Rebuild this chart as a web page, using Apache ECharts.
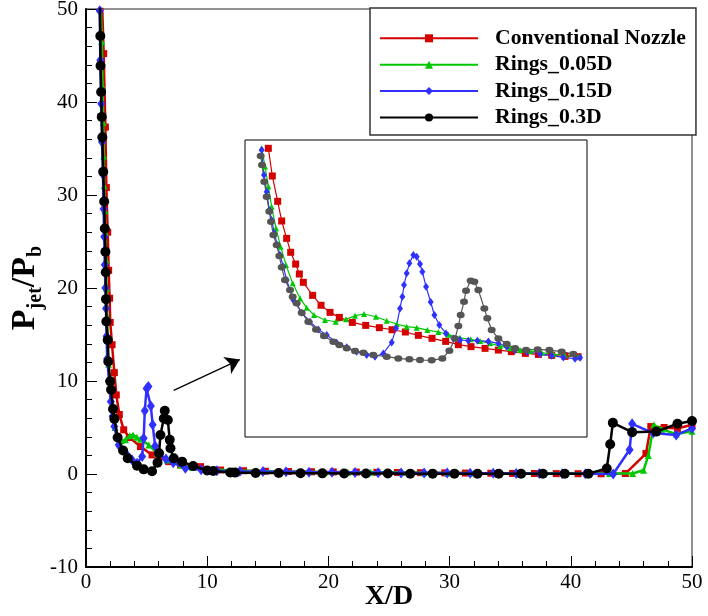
<!DOCTYPE html>
<html>
<head>
<meta charset="utf-8">
<script src="https://cdn.jsdelivr.net/npm/echarts@6/dist/echarts.min.js"></script>
<style>
  html, body { margin: 0; padding: 0; background: #ffffff; }
  #chart { width: 708px; height: 616px; }
</style>
</head>
<body>
<div id="chart"></div>
<script>
// Jet-to-back pressure ratio along the wall, X/D from 0 to 50
const seriesNames = ['Conventional Nozzle', 'Rings_0.05D', 'Rings_0.15D', 'Rings_0.3D'];
const xTicks = [0, 10, 20, 30, 40, 50];
const yTicks = [-10, 0, 10, 20, 30, 40, 50];

// Conventional nozzle
const nozzleX = [1.33, 1.46, 1.6, 1.68, 1.79, 1.87, 1.95, 2.0, 2.15, 2.34, 2.5, 2.75, 3.11, 3.58, 4.49, 5.45, 6.83, 7.8, 9.45, 11.1,
  13.0, 14.8, 16.7, 18.6, 20.4, 22.3, 24.0, 25.7, 27.6, 29.6, 31.3, 33.4, 35.2, 37.0, 38.8, 40.6, 42.5, 44.5, 46.2, 46.6, 47.7, 48.8, 50];
const nozzleY = [50.5, 45.2, 37.3, 30.8, 26.0, 21.9, 18.9, 16.3, 13.9, 10.9, 8.5, 6.4, 4.75, 3.92, 2.95, 2.05, 1.33, 0.97, 0.79, 0.43,
  0.35, 0.3, 0.27, 0.24, 0.22, 0.2, 0.18, 0.16, 0.14, 0.12, 0.1, 0.08, 0.06, 0.05, 0.04, 0.03, 0.02, 0.05, 2.2, 5.1, 5.0, 4.9, 5.3];

// Rings, 0.05D
const rings005X = [1.22, 1.30, 1.36, 1.42, 1.46, 1.5, 1.55, 1.6, 1.65, 1.7, 1.75, 1.8, 1.86, 1.95, 2.05, 2.2, 2.4, 2.56, 2.9, 3.25, 3.6, 3.88, 4.2, 4.49,
  5.18, 5.87, 6.69, 7.8, 8.8, 10.2, 12.1, 14.0, 15.9, 17.8, 19.7, 21.6, 23.5, 26.1, 27.9, 29.8, 31.8, 33.8, 35.6, 37.5, 39.4, 41.3, 43.2, 45.1,
  46.0, 46.4, 46.85, 47.5, 48.7, 50];
const rings005Y = [50.5, 46.5, 41.7, 37.8, 34.2, 31.0, 28.3, 26.0, 23.0, 20.0, 17.0, 14.5, 11.8, 10.0, 8.0, 6.5, 5.0, 4.0, 3.6, 3.67, 4.1, 4.2, 3.95, 3.74,
  3.13, 2.23, 1.51, 0.97, 0.7, 0.5, 0.38, 0.32, 0.28, 0.25, 0.22, 0.2, 0.18, 0.15, 0.13, 0.12, 0.1, 0.09, 0.08, 0.07, 0.06, 0.05, 0.05, 0.05,
  0.4, 2.0, 5.3, 4.8, 4.3, 4.6];

// Rings, 0.15D
const rings015X = [1.13, 1.18, 1.26, 1.32, 1.4, 1.45, 1.5, 1.55, 1.6, 1.65, 1.7, 1.75, 1.9, 2.05, 2.2, 2.34, 2.7, 3.39, 3.8, 4.21, 4.63, 4.76, 4.85, 5.0, 5.15,
  5.35, 5.5, 5.7, 6.0, 6.6, 7.2, 8.2, 9.5, 10.8, 12.7, 14.6, 16.5, 18.4, 20.3, 22.2, 24.1, 26.0, 27.9, 29.8, 31.7, 33.6, 35.5, 37.4, 39.3, 41.2, 43.5,
  44.85, 45.06, 46.8, 48.7, 50];
const rings015Y = [49.8, 44.5, 39.8, 35.7, 32.2, 28.5, 25.5, 22.5, 20.0, 17.8, 14.8, 12.4, 10.0, 7.8, 6.2, 5.1, 3.13, 2.05, 1.5, 1.15, 1.87, 3.85, 6.8, 9.2, 9.4,
  7.3, 5.3, 3.0, 2.1, 1.6, 1.2, 0.61, 0.45, 0.35, 0.3, 0.26, 0.23, 0.2, 0.18, 0.16, 0.14, 0.12, 0.11, 0.1, 0.08, 0.07, 0.06, 0.05, 0.04, 0.03, 0.0,
  2.6, 5.4, 4.4, 4.2, 4.9];

// Rings, 0.3D
const rings03X = [1.15, 1.18, 1.2, 1.25, 1.3, 1.35, 1.42, 1.5, 1.55, 1.6, 1.63, 1.65, 1.68, 1.79, 1.84, 2.0, 2.07, 2.23, 2.34, 2.61, 3.06, 3.44, 4.21, 4.76,
  5.45, 5.9, 6.03, 6.14, 6.42, 6.5, 6.75, 6.91, 6.97, 7.24, 7.93, 8.84, 10.0, 10.5, 11.9, 12.3, 14.0, 15.9, 17.7, 19.5, 21.3, 23.1, 24.9, 26.75, 28.6,
  30.4, 32.3, 34.05, 35.9, 37.7, 39.5, 41.45, 42.97, 43.25, 43.47, 45.06, 47.05, 48.8, 50];
const rings03Y = [50.5, 47.1, 43.9, 41.07, 38.4, 36.2, 32.5, 29.3, 26.4, 23.9, 21.7, 18.8, 16.4, 14.4, 12.1, 9.96, 9.06, 6.98, 5.93, 3.92, 2.52, 1.69, 0.9, 0.5,
  0.3, 1.22, 2.23, 4.2, 5.97, 6.8, 5.8, 3.67, 2.77, 1.69, 1.33, 0.86, 0.38, 0.33, 0.17, 0.15, 0.1, 0.1, 0.08, 0.07, 0.06, 0.05, 0.05, 0.04, 0.04,
  0.04, 0.03, 0.03, 0.03, 0.02, 0.02, 0.02, 0.6, 3.2, 5.5, 4.5, 4.56, 5.4, 5.7];

// Detail view of the near-exit region (X/D about 1 to 9)
const detailNozzleX = [1.563, 1.659, 1.788, 1.885, 2.005, 2.102, 2.222, 2.311, 2.407, 2.632, 2.834, 3.051, 3.276, 3.589, 3.911, 4.241,
  4.547, 4.868, 5.182, 5.512, 5.841, 6.147, 6.452, 6.790, 7.112, 7.425, 7.763, 8.077, 8.398, 8.720, 9.034];
const detailNozzleY = [18.27, 15.85, 13.63, 11.91, 10.39, 9.17, 8.14, 7.27, 6.54, 5.40, 4.53, 3.91, 3.47, 3.03, 2.77, 2.57,
  2.39, 2.19, 1.90, 1.64, 1.37, 1.08, 0.91, 0.76, 0.61, 0.47, 0.32, 0.23, 0.15, 0.06, 0.03];
const detailRings005X = [1.402, 1.483, 1.563, 1.643, 1.748, 1.860, 1.989, 2.150, 2.327, 2.488, 2.665, 2.930, 3.187, 3.437, 3.654, 3.871,
  4.160, 4.418, 4.659, 4.900, 5.141, 5.399, 5.664, 5.906, 6.187, 6.444, 6.670, 6.911, 7.152, 7.393, 7.634, 7.876, 8.157, 8.439, 8.720, 9.042];
const detailRings005Y = [18.27, 16.67, 14.92, 13.16, 11.27, 9.66, 8.06, 6.45, 5.14, 4.32, 3.68, 3.24, 3.09, 3.30, 3.62, 3.77,
  3.53, 3.18, 2.89, 2.66, 2.57, 2.36, 2.19, 1.96, 1.69, 1.55, 1.40, 1.20, 0.96, 0.76, 0.61, 0.53, 0.38, 0.26, 0.15, 0.03];
const detailRings015X = [1.402, 1.458, 1.523, 1.587, 1.643, 1.708, 1.780, 1.844, 1.925, 2.005, 2.166, 2.367, 2.568, 2.769, 2.970, 3.211,
  3.453, 3.694, 3.935, 4.136, 4.337, 4.538, 4.643, 4.739, 4.796, 4.836, 4.900, 4.965, 5.061, 5.142, 5.222, 5.278, 5.367, 5.479, 5.568,
  5.688, 5.849, 6.026, 6.187, 6.388, 6.605, 6.871, 7.112, 7.313, 7.514, 7.795, 8.117, 8.398, 8.680, 8.961, 9.082];
const detailRings015Y = [18.13, 15.94, 14.48, 12.87, 12.00, 10.83, 9.81, 8.93, 7.91, 6.74, 4.99, 3.88, 3.09, 2.42, 1.93, 1.26,
  0.85, 0.47, 0.18, 0.03, 0.32, 1.28, 2.51, 4.26, 5.28, 6.30, 7.33, 8.20, 8.93, 8.79, 8.14, 7.47, 6.16, 4.82, 3.68,
  2.80, 2.07, 1.63, 1.49, 1.43, 1.43, 1.37, 1.20, 0.90, 0.61, 0.47, 0.26, 0.12, -0.03, -0.15, -0.06];
const detailRings03X = [1.378, 1.410, 1.466, 1.523, 1.587, 1.627, 1.684, 1.764, 1.828, 1.885, 1.965, 2.086, 2.150, 2.246, 2.367, 2.528,
  2.713, 2.906, 3.131, 3.276, 3.453, 3.654, 3.855, 4.096, 4.418, 4.699, 4.965, 5.222, 5.503, 5.761, 5.930, 6.066, 6.147, 6.203, 6.283,
  6.332, 6.444, 6.533, 6.629, 6.774, 6.846, 6.951, 7.112, 7.313, 7.514, 7.779, 8.061, 8.342, 8.640, 8.921];
const detailRings03Y = [17.60, 16.81, 15.35, 14.04, 12.73, 11.85, 10.68, 9.81, 8.84, 7.85, 6.74, 5.87, 5.28, 4.70, 3.88, 3.09,
  2.42, 1.84, 1.34, 1.05, 0.76, 0.53, 0.38, 0.18, 0.03, -0.12, -0.20, -0.26, -0.29, -0.12, 0.55, 1.63, 2.71, 3.68, 4.85,
  5.81, 6.68, 6.60, 5.87, 4.26, 3.39, 2.36, 1.63, 1.14, 0.76, 0.61, 0.67, 0.61, 0.47, 0.26];

// Arrow pointing from the exit region to the detail view
const arrowFrom = [7.24, 8.99];
const arrowTo = [12.69, 12.3];

const FONT = '"Liberation Serif", "Times New Roman", serif';
const COLORS = ['#d40000', '#00c800', '#3030ff', '#000000'];

function pairs(xs, ys) {
  return xs.map((x, i) => [x, ys[i]]);
}

function mainLine(name, xs, ys, color, symbol, size, z) {
  return {
    type: 'line', name, xAxisIndex: 0, yAxisIndex: 0,
    data: pairs(xs, ys),
    symbol, symbolSize: size, showAllSymbol: true,
    lineStyle: { width: 2.5, color },
    itemStyle: { color },
    z, animation: false
  };
}

function detailLine(name, xs, ys, color, symbol, size) {
  return {
    type: 'line', name, xAxisIndex: 1, yAxisIndex: 1,
    data: pairs(xs, ys),
    symbol, symbolSize: size, showAllSymbol: true,
    lineStyle: { width: 1.2, color },
    itemStyle: { color },
    z: 12, animation: false
  };
}

const chart = echarts.init(document.getElementById('chart'), null, { renderer: 'canvas' });

// Annotation arrow, carried by an otherwise empty series so it sits above the detail box
const arrowSeries = {
  type: 'line', name: 'arrow', xAxisIndex: 0, yAxisIndex: 0, data: [], z: 15,
  silent: true, animation: false,
  markLine: {
    silent: true,
    symbol: ['none', 'arrow'],
    symbolSize: 14,
    label: { show: false },
    lineStyle: { color: '#000', width: 1.2, type: 'solid' },
    itemStyle: { color: '#000' },
    data: [[{ coord: arrowFrom }, { coord: arrowTo }]]
  }
};

const option = {
  backgroundColor: '#ffffff',
  animation: false,
  textStyle: { fontFamily: FONT },
  grid: [
    { left: 86, top: 9, width: 606, height: 558, outerBoundsMode: 'none', containLabel: false,
      show: true, borderColor: '#6e6e6e', borderWidth: 1.5, backgroundColor: 'transparent' },
    { left: 245, top: 140, width: 342, height: 297, outerBoundsMode: 'none', containLabel: false,
      show: true, borderColor: '#000', borderWidth: 1, backgroundColor: '#ffffff', z: 10 }
  ],
  legend: {
    data: seriesNames,
    orient: 'vertical',
    left: 370,
    top: 8,
    padding: [19.3, 10, 6.5, 9],
    itemWidth: 98,
    itemHeight: 10,
    itemGap: 4.4,
    backgroundColor: '#ffffff',
    borderColor: '#333',
    borderWidth: 1.5,
    z: 20,
    textStyle: {
      fontFamily: FONT, fontWeight: 'bold', fontSize: 21.7, color: '#000',
      lineHeight: 20, padding: [0, 0, 0, 12]
    }
  },
  xAxis: [
    {
      type: 'value', gridIndex: 0, min: xTicks[0], max: xTicks[xTicks.length - 1], interval: 10,
      name: 'X/D', nameLocation: 'middle', nameGap: 16, nameMoveOverlap: false,
      nameTextStyle: { fontFamily: FONT, fontWeight: 'bold', fontSize: 28, color: '#000' },
      axisLine: { show: true, onZero: false, lineStyle: { color: '#000', width: 2 } },
      axisTick: { show: true, inside: true, length: 11, lineStyle: { color: '#000', width: 1 } },
      minorTick: { show: true, splitNumber: 5, length: 6, lineStyle: { color: '#000', width: 1 } },
      axisLabel: { fontFamily: FONT, fontSize: 21, color: '#000', margin: 5 },
      splitLine: { show: false }
    },
    {
      type: 'value', gridIndex: 1, min: 1, max: 9.25, show: false,
      splitLine: { show: false }
    }
  ],
  yAxis: [
    {
      type: 'value', gridIndex: 0, min: yTicks[0], max: yTicks[yTicks.length - 1], interval: 10,
      name: '{p|P}{s|jet}{p|/P}{s|b}', nameLocation: 'middle', nameRotate: 90, nameGap: 23, nameMoveOverlap: false,
      nameTextStyle: {
        color: '#000',
        rich: {
          p: { fontFamily: FONT, fontWeight: 'bold', fontSize: 34, lineHeight: 36, verticalAlign: 'top', color: '#000' },
          s: { fontFamily: FONT, fontWeight: 'bold', fontSize: 20, lineHeight: 55, color: '#000' }
        }
      },
      axisLine: { show: true, onZero: false, lineStyle: { color: '#000', width: 2 } },
      axisTick: { show: true, inside: true, length: 11, lineStyle: { color: '#000', width: 1 } },
      minorTick: { show: true, splitNumber: 5, length: 6, lineStyle: { color: '#000', width: 1 } },
      axisLabel: { fontFamily: FONT, fontSize: 21, color: '#000', margin: 8 },
      splitLine: { show: false }
    },
    {
      type: 'value', gridIndex: 1, min: -7, max: 19, show: false,
      splitLine: { show: false }
    }
  ],
  series: [
    mainLine(seriesNames[0], nozzleX, nozzleY, COLORS[0], 'rect', 7, 5),
    mainLine(seriesNames[1], rings005X, rings005Y, COLORS[1], 'triangle', 7, 6),
    mainLine(seriesNames[2], rings015X, rings015Y, COLORS[2], 'diamond', [8, 11], 7),
    mainLine(seriesNames[3], rings03X, rings03Y, COLORS[3], 'circle', 10, 8),
    detailLine('detail nozzle', detailNozzleX, detailNozzleY, '#d40000', 'rect', 7),
    detailLine('detail 0.05D', detailRings005X, detailRings005Y, '#00c800', 'triangle', 6),
    detailLine('detail 0.15D', detailRings015X, detailRings015Y, '#3030ff', 'diamond', [6, 8]),
    detailLine('detail 0.3D', detailRings03X, detailRings03Y, '#555555', 'circle', [8, 6.5]),
    arrowSeries
  ]
};

chart.setOption(option);
</script>
</body>
</html>
